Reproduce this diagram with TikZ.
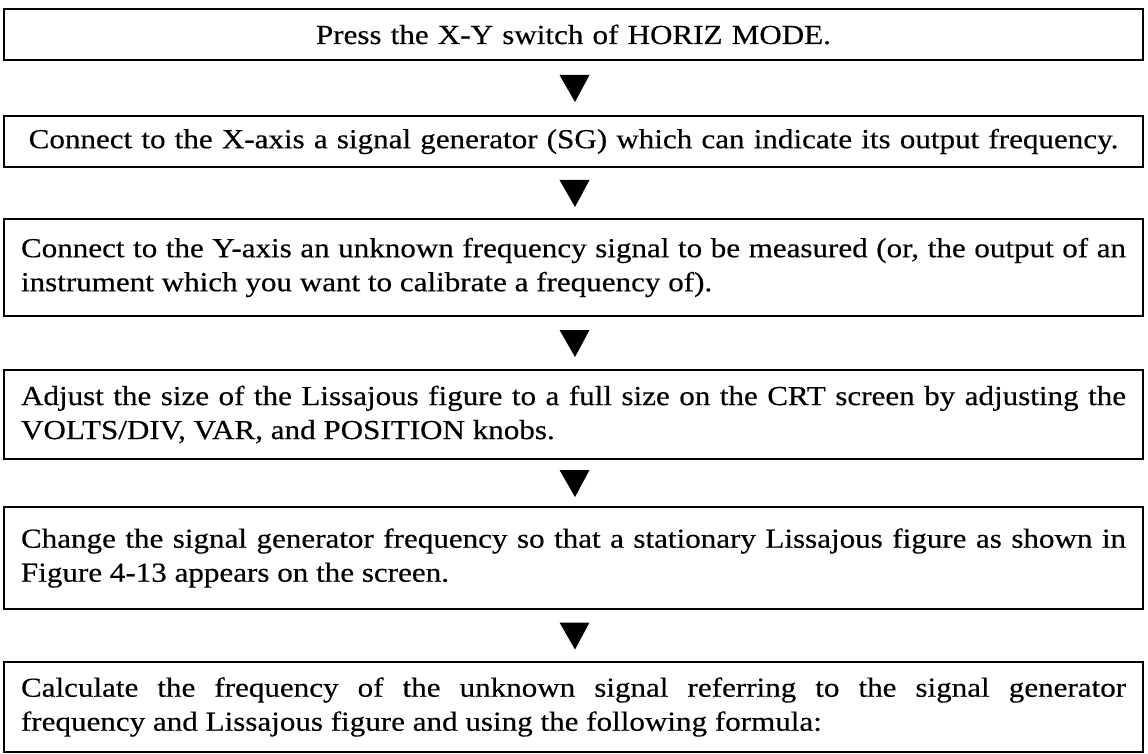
\documentclass[tikz,border=0pt]{standalone}
\usepackage{fontspec}
\setmainfont{Liberation Serif}[FakeStretch=1.13,FakeBold=0.4]
\usetikzlibrary{calc}
\begin{document}
\begin{tikzpicture}[x=1pt,y=-1pt,
  stepbox/.style={draw,line width=1.3pt,minimum width=1139pt,inner xsep=0pt,inner ysep=0pt,
    font=\fontsize{27.5}{34}\selectfont},
  jbox/.style={stepbox,text width=1105pt,align=justify},
  cbox/.style={stepbox,text width=1125pt,align=center},
  tri/.style={fill=black}]
\useasboundingbox (0,0) rectangle (1148,754);
\node[cbox,minimum height=51pt] (b1) at (573.5,34.5) {Press the X-Y switch of HORIZ MODE.};
\node[cbox,minimum height=51pt] (b2) at (573.5,141.5) {Connect to the X-axis a signal generator (SG) which can indicate its output frequency.};
\node[jbox,minimum height=97pt] (b3) at (573.5,267.5) {Connect to the Y-axis an unknown frequency signal to be measured (or, the output of an\linebreak instrument which you want to calibrate a frequency of).};
\node[jbox,minimum height=89pt] (b4) at (573.5,414.5) {Adjust the size of the Lissajous figure to a full size on the CRT screen by adjusting the\linebreak VOLTS/DIV, VAR, and POSITION knobs.};
\node[jbox,minimum height=102pt] (b5) at (573.5,558) {Change the signal generator frequency so that a stationary Lissajous figure as shown in\linebreak Figure 4-13 appears on the screen.};
\node[jbox,minimum height=90pt] (b6) at (573.5,707) {Calculate the frequency of the unknown signal referring to the signal generator\linebreak frequency and Lissajous figure and using the following formula:};
\foreach \a/\b in {b1/b2,b2/b3,b3/b4,b4/b5,b5/b6}{
  \coordinate (m) at ($(\a.south)!0.5!(\b.north)$);
  \fill[tri] ($(m)+(-14,-13)$) -- ($(m)+(16,-13)$) -- ($(m)+(1.5,14)$) -- cycle;
}
\end{tikzpicture}
\end{document}
